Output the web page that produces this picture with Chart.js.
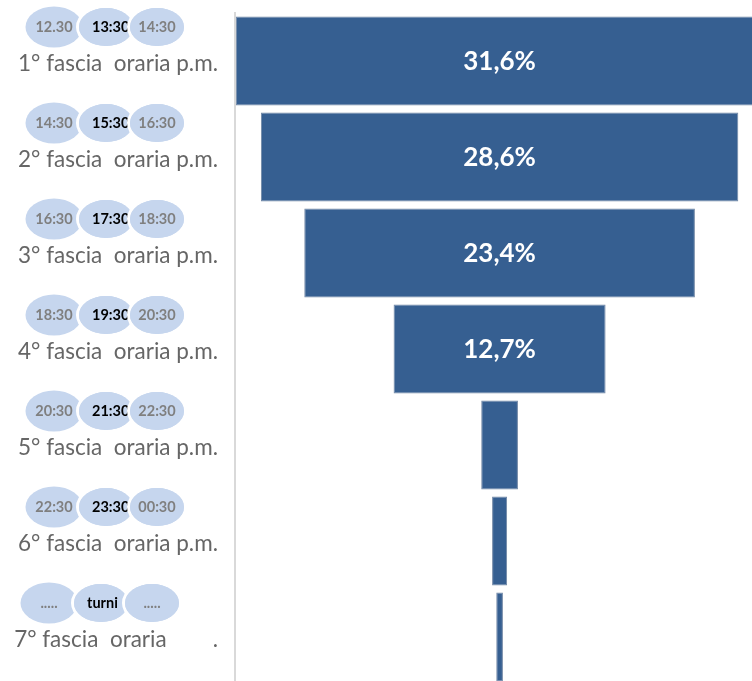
<!DOCTYPE html>
<html>
<head>
<meta charset="utf-8">
<script src="https://cdn.jsdelivr.net/npm/chart.js@4"></script>
<style>
  html, body { margin: 0; padding: 0; background: #fff; overflow: hidden; }
  #wrap { position: relative; width: 752px; height: 685px; }
</style>
</head>
<body>
<div id="wrap"><canvas id="funnel"></canvas></div>
<script>
const categories = [
  '1° fascia  oraria p.m.',
  '2° fascia  oraria p.m.',
  '3° fascia  oraria p.m.',
  '4° fascia  oraria p.m.',
  '5° fascia  oraria p.m.',
  '6° fascia  oraria p.m.',
  '7° fascia  oraria        .',
];
const shares = [31.6, 28.6, 23.4, 12.7, 2.2, 0.9, 0.4];
const shareLabels = ['31,6%', '28,6%', '23,4%', '12,7%', '', '', ''];
const startTimes = ['12.30', '14:30', '16:30', '18:30', '20:30', '22:30', '.....'];
const midTimes = ['13:30', '15:30', '17:30', '19:30', '21:30', '23:30', 'turni'];
const endTimes = ['14:30', '16:30', '18:30', '20:30', '22:30', '00:30', '.....'];

const BAR = '#365f91';
const BUBBLE = '#c6d6ee';

// three overlapping time bubbles above each row label
const bubbles = {
  id: 'bubbles',
  afterDraw(chart) {
    const c = chart.ctx;
    const y = chart.scales.y;
    c.save();
    categories.forEach((_, i) => {
      const cy = y.getPixelForValue(i) - 34;
      const shift = i === 6 ? -5 : 0;
      const xs = [54 + shift, 106 + shift, 157 + shift];
      const texts = [startTimes[i], midTimes[i], endTimes[i]];
      xs.forEach((cx, k) => {
        c.beginPath();
        c.ellipse(cx, cy, 28.5, 20.5, 0, 0, Math.PI * 2);
        c.fillStyle = BUBBLE;
        c.fill();
        if (k > 0) {
          c.lineWidth = 3;
          c.strokeStyle = '#ffffff';
          c.stroke();
          c.beginPath();
          c.ellipse(cx, cy, 27, 19, 0, 0, Math.PI * 2);
          c.fillStyle = BUBBLE;
          c.fill();
        }
        c.font = 'bold 14.5px Lato';
        c.textBaseline = 'middle';
        if (k === 1) {
          c.fillStyle = '#000000';
          c.textAlign = 'left';
          c.fillText(texts[k], cx - 14, cy);
        } else {
          c.fillStyle = '#7f7f7f';
          c.textAlign = 'center';
          c.fillText(texts[k], cx, cy);
        }
      });
    });
    c.restore();
  }
};

// percentage text inside the bars
const valueLabels = {
  id: 'valueLabels',
  afterDatasetsDraw(chart) {
    const c = chart.ctx;
    const meta = chart.getDatasetMeta(0);
    c.save();
    c.font = 'bold 26px Lato';
    c.fillStyle = '#ffffff';
    c.textAlign = 'center';
    c.textBaseline = 'middle';
    meta.data.forEach((bar, i) => {
      if (!shareLabels[i]) return;
      c.fillText(shareLabels[i], (bar.x + bar.base) / 2, bar.y + 1);
    });
    c.restore();
  }
};

new Chart(document.getElementById('funnel'), {
  type: 'bar',
  data: {
    labels: categories,
    datasets: [{
      data: shares.map(v => [-v / 2, v / 2]),
      backgroundColor: BAR,
      borderColor: '#7187a5',
      borderWidth: 1,
      borderSkipped: false,
      barPercentage: 0.927,
      categoryPercentage: 1,
    }]
  },
  options: {
    indexAxis: 'y',
    responsive: true,
    maintainAspectRatio: false,
    animation: false,
    layout: { padding: { top: 13, right: 0, bottom: 0, left: 0 } },
    plugins: {
      legend: { display: false },
      tooltip: { enabled: false },
    },
    scales: {
      x: { display: false, min: -15.85, max: 15.12 },
      y: {
        grid: { display: false, drawTicks: false },
        border: { display: true, color: '#d9d9d9', width: 2 },
        ticks: { color: '#666666', font: { family: 'Lato', size: 22.5 }, padding: 17, labelOffset: 3 },
        afterFit: s => {
          s.width = 235;
          s.paddingTop = 0;
          s.paddingBottom = 0;
        },
      }
    }
  },
  plugins: [bubbles, valueLabels]
});
</script>
</body>
</html>
